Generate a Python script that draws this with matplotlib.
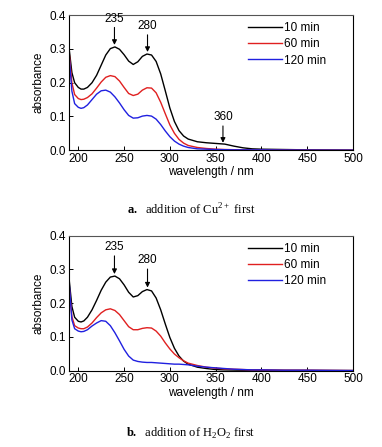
import numpy as np
import matplotlib
matplotlib.use("Agg")
import matplotlib.pyplot as plt

plt.rcParams['font.family'] = ['Liberation Sans', 'DejaVu Sans']
plt.rcParams['mathtext.fontset'] = 'custom'
plt.rcParams['mathtext.rm'] = 'Liberation Serif'
plt.rcParams['mathtext.bf'] = 'Liberation Serif:bold'

# wavelength grid (nm)
wl = [190, 193, 196, 200, 203, 206, 210, 215, 220, 225, 230, 235, 240, 245, 250, 255,
      260, 265, 270, 275, 280, 285, 290, 295, 300, 305, 310, 315, 320, 330, 340, 350,
      360, 370, 380, 390, 400, 425, 450, 475, 500]

# panel a: Cu2+ first
a_10 = [0.300, 0.230, 0.200, 0.186, 0.181, 0.181, 0.186, 0.200, 0.222, 0.252, 0.282, 0.301,
        0.306, 0.299, 0.283, 0.264, 0.254, 0.262, 0.278, 0.285, 0.282, 0.263, 0.226, 0.176,
        0.125, 0.085, 0.058, 0.042, 0.033, 0.025, 0.022, 0.020, 0.018, 0.012, 0.007, 0.004,
        0.003, 0.002, 0.001, 0.0005, 0.0]
a_60 = [0.290, 0.200, 0.165, 0.153, 0.150, 0.151, 0.156, 0.167, 0.184, 0.202, 0.216, 0.221,
        0.218, 0.205, 0.186, 0.168, 0.162, 0.166, 0.178, 0.185, 0.184, 0.170, 0.142, 0.108,
        0.075, 0.050, 0.032, 0.021, 0.014, 0.008, 0.005, 0.003, 0.002, 0.0015, 0.001, 0.001,
        0.001, 0.0005, 0.0003, 0.0001, 0.0]
a_120 = [0.280, 0.175, 0.138, 0.127, 0.124, 0.126, 0.134, 0.150, 0.166, 0.176, 0.178, 0.172,
         0.158, 0.140, 0.120, 0.103, 0.095, 0.096, 0.101, 0.103, 0.101, 0.092, 0.076, 0.057,
         0.040, 0.027, 0.018, 0.012, 0.008, 0.004, 0.003, 0.002, 0.0015, 0.001, 0.001, 0.001,
         0.001, 0.0005, 0.0003, 0.0001, 0.0]

# panel b: H2O2 first
b_10 = [0.270, 0.190, 0.158, 0.146, 0.144, 0.147, 0.158, 0.180, 0.208, 0.238, 0.262, 0.277,
        0.280, 0.272, 0.254, 0.232, 0.218, 0.222, 0.234, 0.240, 0.236, 0.215, 0.180, 0.138,
        0.098, 0.066, 0.043, 0.028, 0.019, 0.010, 0.006, 0.003, 0.002, 0.0015, 0.001, 0.001,
        0.001, 0.0005, 0.0003, 0.0001, 0.0]
b_60 = [0.250, 0.160, 0.133, 0.126, 0.124, 0.124, 0.129, 0.141, 0.157, 0.171, 0.180, 0.183,
        0.178, 0.166, 0.148, 0.130, 0.121, 0.121, 0.125, 0.127, 0.126, 0.117, 0.102, 0.082,
        0.064, 0.049, 0.038, 0.029, 0.022, 0.015, 0.010, 0.007, 0.005, 0.004, 0.003, 0.002,
        0.002, 0.001, 0.001, 0.0005, 0.0]
b_120 = [0.260, 0.150, 0.124, 0.117, 0.115, 0.116, 0.121, 0.132, 0.141, 0.148, 0.146, 0.133,
         0.112, 0.088, 0.063, 0.043, 0.031, 0.027, 0.025, 0.024, 0.024, 0.023, 0.022, 0.021,
         0.020, 0.019, 0.019, 0.018, 0.017, 0.013, 0.010, 0.008, 0.006, 0.004, 0.003, 0.002,
         0.002, 0.001, 0.001, 0.0005, 0.0]

labels = ['10 min', '60 min', '120 min']
colors = ['#000000', '#e02020', '#2020e0']

# (text, x, text_y, tip_y)
peaks_a = [('235', 239.5, 0.372, 0.312), ('280', 275.6, 0.350, 0.291), ('360', 358, 0.080, 0.022)]
peaks_b = [('235', 239.5, 0.348, 0.286), ('280', 275.6, 0.309, 0.246)]

fig = plt.figure(figsize=(3.82, 4.47), dpi=100)
ax1 = fig.add_axes([0.181, 0.664, 0.743, 0.302])
ax2 = fig.add_axes([0.181, 0.171, 0.743, 0.302])


def draw(ax, series, peaks):
    for ys, lab, c in zip(series, labels, colors):
        ax.plot(wl, ys, color=c, lw=1.0, label=lab)
    for txt, x, ty, tip in peaks:
        ax.annotate(txt, xy=(x, tip), xytext=(x, ty), ha='center', va='bottom', fontsize=8.5,
                    arrowprops=dict(arrowstyle='-|>', color='black', lw=0.8,
                                    mutation_scale=7, shrinkA=0, shrinkB=0))
    ax.set_xlim(190, 500)
    ax.set_ylim(0, 0.4)
    ax.set_xticks([200, 250, 300, 350, 400, 450, 500])
    ax.set_yticks([0.0, 0.1, 0.2, 0.3, 0.4])
    ax.set_yticklabels(['0.0', '0.1', '0.2', '0.3', '0.4'])
    ax.tick_params(direction='in', length=3, width=0.7, labelsize=8.5, pad=2)
    for s in ax.spines.values():
        s.set_linewidth(0.8)
    ax.spines['top'].set_color('#555555')
    ax.set_xlabel('wavelength / nm', fontsize=8.5, labelpad=1)
    ax.set_ylabel('absorbance', fontsize=8.5, labelpad=4)
    ax.legend(loc='upper right', frameon=False, fontsize=8.5, handlelength=2.8,
              handletextpad=0.2, labelspacing=0.35, borderaxespad=0.2,
              bbox_to_anchor=(0.93, 1.0))


draw(ax1, [a_10, a_60, a_120], peaks_a)
draw(ax2, [b_10, b_60, b_120], peaks_b)

fig.text(0.5, 1 - 210 / 447, r'$\mathbf{a.}$  addition of Cu$^{2+}$ first', ha='center', va='center',
         fontsize=9, family='Liberation Serif')
fig.text(0.5, 1 - 433 / 447, r'$\mathbf{b.}$  addition of H$_2$O$_2$ first', ha='center', va='center',
         fontsize=9, family='Liberation Serif')

fig.savefig('out.png', dpi=100)
